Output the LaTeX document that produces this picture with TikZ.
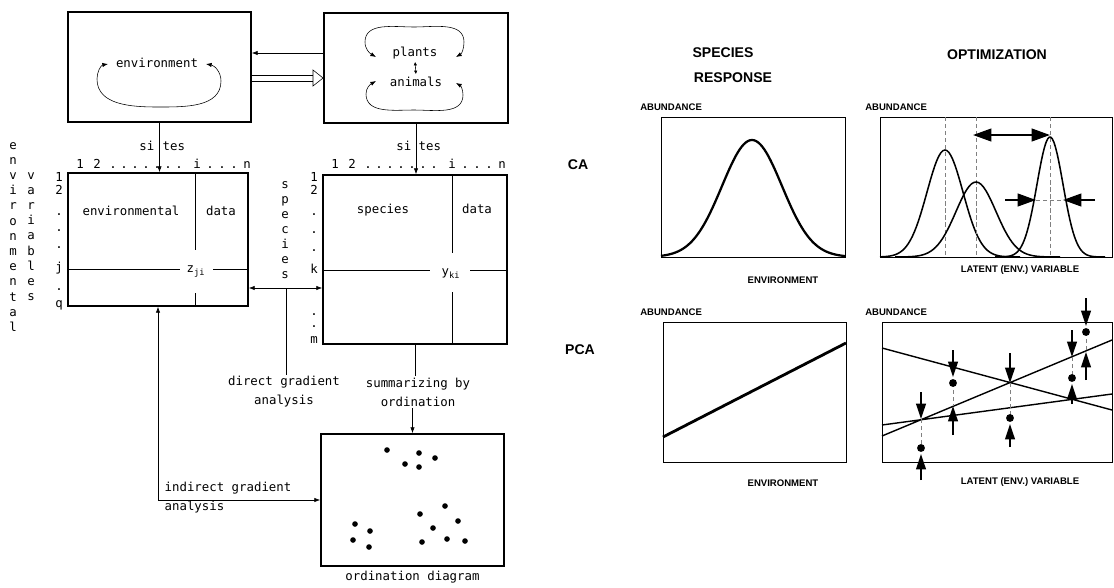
\documentclass[tikz,border=0pt]{standalone}
\usepackage{fontspec}
\setmonofont{DejaVu Sans Mono}
\newfontfamily\plotfont{Liberation Sans}
\usepackage{tikz}
\usetikzlibrary{arrows.meta,positioning,fit}

\begin{document}
\begin{tikzpicture}[x=0.025cm, y=-0.025cm,
    >={Latex[length=4pt,width=3pt]},
    box/.style={draw, line width=1.3pt, inner sep=0pt},
    tt/.style={font=\ttfamily\fontsize{8.8}{13.5}\selectfont, inner sep=1pt},
    lbl/.style={tt, text height=1.6ex, text depth=.3ex},
    plotbox/.style={draw, thin, inner sep=0pt},
    hd/.style={font=\plotfont\bfseries\fontsize{10}{12}\selectfont, inner sep=1pt},
    axl/.style={font=\plotfont\bfseries\fontsize{6.8}{8}\selectfont, inner sep=0pt},
    guide/.style={densely dashed, gray, thin},
    bigarr/.style={>={Triangle[length=13pt,width=9pt]}, line width=1.4pt},
    midarr/.style={>={Triangle[length=11pt,width=7pt]}, line width=1.2pt}]
    \useasboundingbox (0,0) rectangle (1114,587);

    % Boxes of the data scheme
    \node[box, fit={(68,12) (251,122)}] (envbox) {};
    \node[box, fit={(324,13) (508,123)}] (orgbox) {};
    \node[box, fit={(68,173) (248,306)}] (envdata) {};
    \node[box, fit={(323,175) (507,344)}] (spdata) {};
    \node[box, fit={(321,434) (504,566)}] (ordbox) {};

    \node[lbl] (envtxt) at (157,64) {environment};
    \node[lbl] (plantstxt) at (415,53) {plants};
    \node[lbl] (animtxt) at (416,83) {animals};
    \draw[<->] (108,64) to[out=190,in=90] (97,79) to[out=-90,in=180] (158,107) to[out=0,in=-90] (221,81) to[out=90,in=-10] (206,64);
    \draw[<->] (376,57) to[out=150,in=-90] (365,42) to[out=90,in=180] (414,27) to[out=0,in=90] (464,42) to[out=-90,in=30] (456,57);
    \draw[<->] (376,81) to[out=-150,in=90] (366,94) to[out=-90,in=180] (414,110) to[out=0,in=-90] (463,95) to[out=90,in=-30] (456,83);
    \draw[<->, >={Latex[length=2.5pt,width=2.5pt]}, shorten <=1pt, shorten >=1pt] (plantstxt.south) -- (animtxt.north);

    % links between the two upper boxes
    \coordinate (fb) at (0,53);
    \coordinate (ffa) at (0,75);
    \coordinate (ffb) at (0,81);
    \coordinate (ffh) at (313,78);
    \draw[->] (orgbox.west |- fb) -- (envbox.east |- fb);
    \draw (envbox.east |- ffa) -- (ffh |- ffa);
    \draw (envbox.east |- ffb) -- (ffh |- ffb);
    \draw[fill=white, line join=miter] (313,70) -- (orgbox.west |- ffh) -- (313,86) -- cycle;

    % sites
    \draw[->] (envbox.south) -- (envbox.south |- envdata.north);
    \draw[->] (orgbox.south) -- (orgbox.south |- spdata.north);
    \node[lbl, anchor=east] at (156,147) {si};
    \node[lbl, anchor=west] at (161,147) {tes};
    \node[lbl, anchor=east] at (413,147) {si};
    \node[lbl, anchor=west] at (417,147) {tes};
    \foreach \ox/\c in {0/1, 17/2, 117/i, 167/n} {
        \node[lbl] at (80+\ox,165) {\c};
        \node[lbl] at (335+\ox,165) {\c};
    }
    \foreach \ox in {33,44,...,103,130,142,154} {
        \node[lbl] at (80+\ox,165) {.};
        \node[lbl] at (335+\ox,165) {.};
    }

    % environmental data
    \node[lbl] at (131,212) {environmental};
    \node[lbl] at (221,212) {data};
    \node[lbl] (zji) at (196,269) {z\textsubscript{ji}};
    \draw[semithick] (195,173) -- (195,250) (195,293) -- (195,306) (68,269) -- (180,269) (213,269) -- (248,269);
    \foreach \ry/\c in {178/1, 191/2, 212/., 228/., 245/., 268/j, 287/., 304/q}
        \node[lbl] at (59,\ry) {\c};
    \foreach \c [count=\i] in {e,n,v,i,r,o,n,m,e,n,t,a,l}
        \node[lbl] at (13,130+15.2*\i) {\c};
    \foreach \c [count=\i] in {v,a,r,i,a,b,l,e,s}
        \node[lbl] at (31,160+15.2*\i) {\c};

    % species data
    \node[lbl] at (383,210) {species};
    \node[lbl] at (477,210) {data};
    \node[lbl] (yki) at (451,272) {y\textsubscript{ki}};
    \draw[semithick] (452,175) -- (452,253) (452,292) -- (452,344) (323,270) -- (430,270) (470,270) -- (507,270);
    \foreach \ry/\c in {178/1, 191/2, 212/., 230/., 248/., 270/k, 312/., 324/., 340/m}
        \node[lbl] at (314,\ry) {\c};
    \foreach \c [count=\i] in {s,p,e,c,i,e,s}
        \node[lbl] at (285,170+15*\i) {\c};

    % gradient analysis and ordination
    \coordinate (dga) at (286,288);
    \draw[<->] (envdata.east |- dga) -- (spdata.west |- dga);
    \node[tt, align=center] (dgtext) at (284,392) {direct gradient\\analysis};
    \draw (dga) -- (dga |- dgtext.north);
    \node[tt, align=center] (sumtext) at (418,392) {summarizing by\\ordination};
    \draw (spdata.south) -- (spdata.south |- sumtext.north);
    \draw[->] (sumtext.south -| ordbox.north) -- (ordbox.north);
    \draw[<->] (envdata.south) |- (ordbox.west);
    \node[tt, align=left, anchor=west] (igtext) at (163,498) {indirect gradient\\analysis};
    \node[tt, below=2pt of ordbox] (ordlbl) {ordination diagram};
    \foreach \px/\py in {387/450, 419/453, 405/464, 419/467, 435/458, 445/506, 420/514, 458/521, 433/528,
        355/524, 370/531, 353/540, 369/547, 422/542, 447/539, 465/541}
        \fill (\px,\py) circle (2pt);

    % species response and optimization
    \node[hd] at (723,53) {SPECIES};
    \node[hd] at (733,78) {RESPONSE};
    \node[hd] at (997,55) {OPTIMIZATION};
    \node[hd] at (578,165) {CA};
    \node[hd] at (580,350) {PCA};

    \node[plotbox, fit={(661,117) (845,257)}] (caresp) {};
    \node[axl, anchor=west] at (640,107) {ABUNDANCE};
    \node[axl] at (783,280) {ENVIRONMENT};
    \draw[line width=1.6pt, domain=661:845, samples=90] plot (\x, {257-117*exp(-((\x-752)/30)^2/2)});

    \node[plotbox, fit={(880,117) (1112,257)}] (caopt) {};
    \node[axl, anchor=west] at (865,107) {ABUNDANCE};
    \node[axl] at (1020,270) {LATENT (ENV.) VARIABLE};
    \foreach \m/\h/\s/\a/\b in {945/107/18/880/1020, 976/75/20/895/1060, 1050/120/13/995/1105} {
        \draw[guide] (\m,117) -- (\m,257);
        \draw[line width=1.1pt, domain=\a:\b, samples=70] plot (\x, {257-\h*exp(-((\x-\m)/\s)^2/2)});
    }
    \draw[bigarr, <->] (973,135) -- (1050,135);
    \draw[guide] (1036,200) -- (1063,200);
    \draw[bigarr, ->] (1005,200) -- (1036,200);
    \draw[bigarr, ->] (1095,200) -- (1063,200);

    \node[plotbox, fit={(663,322) (846,462)}] (pcaresp) {};
    \node[axl, anchor=west] at (640,312) {ABUNDANCE};
    \node[axl] at (783,483) {ENVIRONMENT};
    \draw[line width=2pt] (663,437) -- (846,343);

    \node[plotbox, fit={(882,322) (1112,462)}] (pcaopt) {};
    \node[axl, anchor=west] at (865,312) {ABUNDANCE};
    \node[axl] at (1020,482) {LATENT (ENV.) VARIABLE};
    \draw[line width=1pt] (882,348) -- (1112,410) (882,436) -- (1112,340) (882,425) -- (1112,394);
    \foreach \px/\ds/\de/\us/\ue/\dy/\ga/\gb in {921/392/419/480/454/448/419/448, 953/350/377/435/406/383/383/406,
        1010/353/383/447/424/418/383/418, 1072/330/357/404/384/378/357/378, 1086/298/326/380/352/332/332/351} {
        \draw[guide] (\px,\ga) -- (\px,\gb);
        \draw[midarr, ->] (\px,\ds) -- (\px,\de);
        \draw[midarr, ->] (\px,\us) -- (\px,\ue);
        \fill (\px,\dy) circle (2.8pt);
    }
\end{tikzpicture}
\end{document}
